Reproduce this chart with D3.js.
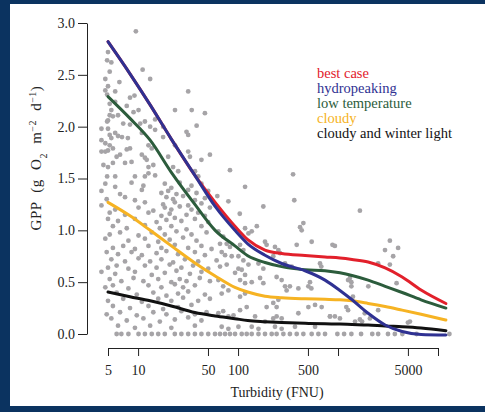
<!DOCTYPE html>
<html>
<head>
<meta charset="utf-8">
<script src="https://cdn.jsdelivr.net/npm/d3@7"></script>
<style>
  html, body { margin: 0; padding: 0; background: #0b3360; }
  svg { display: block; }
  text { font-family: "Liberation Serif", "Times New Roman", serif; }
</style>
</head>
<body>
<div id="chart"></div>
<script>
"use strict";

// measured samples: [turbidity (FNU), GPP]
var samples = [
  [9.5,2.92],[5.0,2.72],[4.9,2.64],[5.4,2.62],[5.2,2.53],[11.1,2.55],[4.7,2.46],[6.5,2.43],[13.2,2.46],[5.0,2.39],
  [4.7,2.35],[5.9,2.34],[31.7,2.34],[4.9,2.31],[9.2,2.30],[8.3,2.28],[5.9,2.24],[5.2,2.22],[7.7,2.20],[23.4,2.16],
  [34.4,2.16],[46.6,2.13],[10.1,2.16],[9.0,2.14],[5.4,2.16],[5.2,2.11],[5.6,2.10],[6.3,2.11],[5.0,2.06],[4.9,2.05],
  [14.8,2.07],[10.5,2.03],[11.7,2.05],[8.3,2.02],[4.3,1.98],[5.0,1.98],[7.1,2.03],[13.2,2.0],[14.8,1.97],[17.8,2.0],
  [38.5,2.01],[30.5,1.95],[31.7,1.92],[5.9,1.94],[6.3,1.91],[6.9,1.90],[5.2,1.92],[5.4,1.89],[10.9,1.94],[7.9,1.89],
  [17.8,1.90],[4.3,1.87],[4.7,1.84],[5.2,1.82],[5.6,1.79],[5.0,1.77],[4.7,1.76],[4.3,1.76],[8.3,1.79],[7.7,1.78],
  [12.7,1.82],[13.7,1.79],[23.4,1.82],[52.3,1.73],[31.7,1.76],[33,1.71],[6.6,1.73],[6.1,1.71],[10.9,1.73],[11.7,1.70],
  [12.2,1.68],[20,1.71],[43,1.68],[8.6,1.66],[7.4,1.65],[4.5,1.63],[5.0,1.61],[5.6,1.65],[12.7,1.61],[14.2,1.63],
  [22.4,1.61],[25.2,1.57],[37.1,1.57],[40,1.52],[9.3,1.52],[11.7,1.52],[12.7,1.55],[14.8,1.53],[4.9,1.52],[5.9,1.52],
  [83,1.58],[355,1.54],
  [4.7,1.45],[5.9,1.42],[8.6,1.46],[11.3,1.43],[18.5,1.45],[21.5,1.41],[26.1,1.46],[34.2,1.43],[43,1.45],
  [4.3,1.38],[6.6,1.35],[10.9,1.39],[17.1,1.36],[20.0,1.38],[24.2,1.35],[31.7,1.39],[38.4,1.36],[50.3,1.38],
  [4.85,1.30],[7.4,1.32],[9.3,1.29],[19.2,1.32],[22.4,1.30],[28.2,1.33],[37,1.29],[46.6,1.31],
  [4.3,1.24],[11.7,1.27],[17.8,1.25],[23.3,1.27],[31.7,1.24],[43,1.26],
  [5.9,1.20],[10.1,1.22],[14.2,1.19],[18.5,1.22],[21.5,1.20],[26.1,1.23],[34.2,1.20],[52.3,1.22],
  [5.2,1.17],[7.4,1.15],[12.7,1.17],[17.1,1.14],[20.7,1.16],[30.5,1.15],[39.9,1.17],[46.6,1.14],
  [5.0,1.11],[6.3,1.09],[9.3,1.11],[15.3,1.08],[19.2,1.10],[23.3,1.12],[27.1,1.09],[37,1.11],[50.3,1.08],
  [5.6,1.04],[7.7,1.02],[11.7,1.05],[16.5,1.02],[21.5,1.04],[30.5,1.01],[43,1.04],
  [5.2,0.96],[6.6,0.98],[10.1,0.95],[13.7,0.98],[18.5,0.96],[24.2,0.99],[34.2,0.96],[48.4,0.98],
  [4.7,0.92],[8.0,0.90],[11.7,0.92],[15.9,0.89],[20.7,0.91],[28.2,0.93],[38.4,0.90],
  [5.6,0.83],[7.1,0.85],[9.3,0.82],[12.7,0.85],[17.1,0.83],[23.3,0.86],[31.7,0.83],[43,0.85],[54.3,0.82],
  [4.85,0.79],[6.3,0.77],[8.6,0.79],[10.9,0.76],[15.3,0.78],[19.2,0.80],[25.1,0.77],[37,0.79],[46.6,0.76],
  [5.4,0.72],[7.4,0.70],[10.1,0.73],[13.2,0.70],[17.1,0.72],[22.4,0.69],[29.4,0.72],[39.9,0.70],
  [5.0,0.64],[6.1,0.66],[8.0,0.63],[11.7,0.66],[15.3,0.64],[20.7,0.67],[27.1,0.64],[35.5,0.66],[50.3,0.63],
  [4.3,0.60],[5.9,0.58],[9.3,0.60],[13.7,0.57],[18.5,0.59],[24.2,0.61],[33,0.58],[43,0.60],
  [5.2,0.53],[6.8,0.51],[9.0,0.54],[11.3,0.51],[15.9,0.53],[21.5,0.50],[26.1,0.53],[30.5,0.51],[41.4,0.54],[52.3,0.51],
  [4.7,0.45],[5.6,0.47],[8.0,0.44],[12.7,0.47],[17.1,0.45],[23.3,0.48],[28.2,0.45],[37,0.47],
  [6.1,0.40],[9.7,0.38],[14.2,0.40],[19.2,0.37],[25.1,0.39],[31.7,0.41],[46.6,0.38],
  [5.0,0.32],[7.1,0.34],[10.9,0.31],[15.9,0.34],[21.5,0.32],[28.2,0.35],[39.9,0.32],[52.3,0.34],
  [5.6,0.27],[8.3,0.25],[12.7,0.27],[17.8,0.24],[25.1,0.26],[34.2,0.28],
  [4.85,0.19],[6.6,0.21],[9.7,0.18],[14.2,0.21],[19.2,0.19],[27.1,0.22],[37,0.19],[48.4,0.21],
  [5.4,0.15],[7.7,0.13],[11.3,0.15],[16.5,0.12],[23.3,0.14],[31.7,0.16],[43,0.13],
  [6.3,0.08],[9.3,0.06],[13.2,0.08],[21.5,0.06],[37,0.08],
  [6.1,0],[6.8,0],[8.0,0],[10.1,0],[11.7,0],[13.7,0],[15.9,0],[18.5,0],[23.3,0],[27.1,0],[31.7,0],[37,0],[43,0],[50.3,0],
  [117.5,1.42],[179,1.23],[365,1.29],[80,1.28],[62,1.33],[104,1.16],[154,1.04],[117.5,1.02],[137,0.99],[127,0.97],
  [450,1.07],[417,1.03],[433,1.0],[545,0.89],[386,0.86],[186,0.89],[193,0.86],[234,0.84],[253,0.81],
  [63.5,0.99],[71,0.94],[77,0.87],[66,0.87],[83,0.84],[68.6,0.79],[74.1,0.76],[86.4,0.75],[61,0.71],[66,0.65],[77,0.67],
  [104.7,0.86],[113,0.81],[100.8,0.75],[113,0.71],[127,0.67],[100.8,0.63],[108.8,0.62],[93.3,0.59],[117.5,0.57],
  [263,0.78],[225,0.75],[160,0.68],[179,0.63],[295,0.68],[344,0.65],
  [63.5,0.52],[71,0.46],[80,0.42],[68.6,0.39],[104.7,0.52],[117.5,0.49],[137,0.50],[166,0.54],[179,0.49],[243,0.55],
  [273,0.52],[295,0.46],[330,0.46],[401,0.44],[306,0.42],[117.5,0.39],[104.7,0.36],[225,0.30],[243,0.26],[253,0.33],
  [193,0.26],[505,0.26],[589,0.28],[686,0.26],[63.5,0.20],[71,0.22],[80,0.17],[90,0.18],[104.7,0.23],[122,0.26],
  [148,0.17],[186,0.12],[225,0.15],[243,0.17],[273,0.15],[401,0.20],[832,0.17],
  [68.6,0.07],[80,0.05],[100.8,0.07],[137,0.07],[160,0.05],[234,0.07],[273,0.05],[371,0.07],[589,0.07],
  [58.8,0],[66,0],[74.1,0],[83,0],[93.3,0],[108.8,0],[122,0],[137,0],[160,0],[186,0],[217,0],[243,0],[284,0],[330,0],
  [386,0],[450,0],[545,0],[636,0],[741,0],
  [1655,1.19],[3300,0.90],[2950,0.81],[3990,0.83],[3560,0.75],[3300,0.67],[2520,0.68],[930,0.85],[1260,0.52],[1360,0.46],
  [1410,0.36],[1210,0.26],[1260,0.23],[2010,0.46],[1850,0.20],[1655,0.14],[1740,0.12],[1480,0.12],[2520,0.23],[3850,0.49],
  [5000,0.11],[1045,0.15],[880,0.86],[660,0.68],[680,0.65],[524,0.50],[505,0.46],[541,0.44],[1315,0.54],[1360,0.50],
  [830,0.17],[930,0.17],[2085,0.15],[5240,0.12],
  [985,0],[1150,0],[1360,0],[1700,0],[2200,0],[2520,0],[3160,0],[3700,0],[4400,0],[6100,0],[13000,0]
];

// fitted curves, read at these turbidity values
var curveTurbidity = [5, 8.3, 13.2, 21.5, 37, 59, 93, 125, 186, 273, 468, 741, 1045, 1380, 2000, 2960, 4380, 6770, 12000];
var bestCase     = [2.82, 2.51, 2.21, 1.88, 1.53, 1.27, 1.04, 0.91, 0.81, 0.776, 0.757, 0.743, 0.733, 0.719, 0.694, 0.637, 0.55, 0.424, 0.294];
var hydropeaking = [2.82, 2.51, 2.21, 1.88, 1.53, 1.23, 1.00, 0.87, 0.76, 0.68, 0.61, 0.52, 0.42, 0.33, 0.20, 0.087, 0.024, -0.005, -0.01];
var lowTemp      = [2.29, 2.08, 1.87, 1.56, 1.25, 1.00, 0.85, 0.755, 0.69, 0.65, 0.62, 0.61, 0.59, 0.565, 0.52, 0.46, 0.40, 0.33, 0.25];
var cloudy       = [1.27, 1.14, 1.00, 0.85, 0.685, 0.56, 0.45, 0.405, 0.365, 0.35, 0.34, 0.335, 0.33, 0.32, 0.295, 0.265, 0.23, 0.19, 0.135];
var cloudyWinter = [0.405, 0.36, 0.32, 0.27, 0.207, 0.174, 0.148, 0.13, 0.119, 0.111, 0.103, 0.098, 0.096, 0.092, 0.087, 0.077, 0.07, 0.058, 0.032];

var seriesNames = ["best case", "hydropeaking", "low temperature", "cloudy", "cloudy and winter light"];
var seriesColors = ["#e2202b", "#2f3192", "#2c5c3c", "#f6b323", "#111111"];
var seriesValues = [bestCase, hydropeaking, lowTemp, cloudy, cloudyWinter];

var yTicks = [0, 0.5, 1.0, 1.5, 2.0, 2.5, 3.0];
var xTicks = [5, 10, 50, 100, 500, 1000, 5000, 10000];
var xTickLabels = ["5", "10", "50", "100", "500", "", "5000", ""];

var W = 485, H = 412;

var svg = d3.select("#chart").append("svg")
    .attr("width", W)
    .attr("height", H);

// navy frame + white panel
svg.append("rect").attr("width", W).attr("height", H).attr("fill", "#0b3360");
svg.append("rect").attr("x", 10).attr("y", 4).attr("width", W - 10).attr("height", 402).attr("fill", "#fff");

var x = d3.scaleLog().domain([5, 10000]).range([108, 438]);
var y = d3.scaleLinear().domain([0, 3]).range([334, 23]);

// y axis
var yAxis = svg.append("g")
    .attr("transform", "translate(87,0)")
    .call(d3.axisLeft(y).tickValues(yTicks).tickFormat(d3.format(".1f")).tickSize(9).tickSizeOuter(0).tickPadding(3));

// x axis
var xAxis = svg.append("g")
    .attr("transform", "translate(0,348)")
    .call(d3.axisBottom(x).tickValues(xTicks)
        .tickFormat(function (d, i) { return xTickLabels[i]; })
        .tickSize(8).tickSizeOuter(0).tickPadding(9));

[yAxis, xAxis].forEach(function (ax) {
    ax.select(".domain").attr("stroke", "#222").attr("stroke-width", 1);
    ax.selectAll(".tick line").attr("stroke", "#222").attr("stroke-width", 1);
    ax.selectAll(".tick text")
        .attr("fill", "#222")
        .style("font-family", "'Liberation Serif', 'Times New Roman', serif")
        .style("font-size", "14px");
});

// scatter
svg.append("g").selectAll("circle")
    .data(samples)
    .join("circle")
    .attr("cx", function (d) { return x(d[0]); })
    .attr("cy", function (d) { return y(d[1]); })
    .attr("r", 2.4)
    .attr("fill", "#a6a4a7");

// fitted curves
var line = d3.line()
    .x(function (d) { return x(d[0]); })
    .y(function (d) { return y(d[1]); })
    .curve(d3.curveMonotoneX);

var drawOrder = [0, 2, 3, 4, 1];
drawOrder.forEach(function (k) {
    var pts = curveTurbidity.map(function (t, i) { return [t, seriesValues[k][i]]; });
    svg.append("path")
        .attr("d", line(pts))
        .attr("fill", "none")
        .attr("stroke", seriesColors[k])
        .attr("stroke-width", 3)
        .attr("stroke-linecap", "round");
});

// legend
svg.append("g").selectAll("text")
    .data(seriesNames)
    .join("text")
    .attr("x", 317)
    .attr("y", function (d, i) { return 78 + i * 15; })
    .attr("fill", function (d, i) { return seriesColors[i]; })
    .style("font-size", "14.5px")
    .text(function (d) { return d; });

// axis titles
svg.append("text")
    .attr("x", 277)
    .attr("y", 397)
    .attr("text-anchor", "middle")
    .attr("fill", "#222")
    .style("font-size", "14px")
    .text("Turbidity (FNU)");

var yt = svg.append("text")
    .attr("transform", "translate(41,158) rotate(-90)")
    .attr("text-anchor", "middle")
    .attr("fill", "#222")
    .style("font-size", "15px")
    .style("letter-spacing", "0.5px")
    .style("word-spacing", "5px");
yt.append("tspan").text("GPP (g O");
yt.append("tspan").attr("baseline-shift", "sub").style("font-size", "10px").text("2");
yt.append("tspan").text(" m");
yt.append("tspan").attr("baseline-shift", "super").style("font-size", "10px").text("−2");
yt.append("tspan").text(" d");
yt.append("tspan").attr("baseline-shift", "super").style("font-size", "10px").text("−1");
yt.append("tspan").text(")");
</script>
</body>
</html>
